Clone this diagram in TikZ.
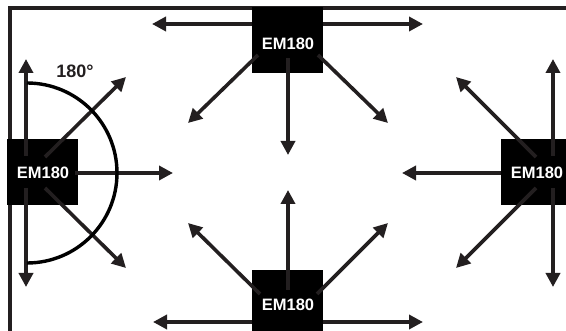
\documentclass[tikz,border=0pt]{standalone}
\usepackage{fontspec}
\setmainfont{Liberation Sans}
\usetikzlibrary{arrows.meta}
\definecolor{ink}{HTML}{231F20}
\begin{document}
\begin{tikzpicture}[x=1pt,y=-1pt,
  box/.style={fill=black,draw=none,minimum width=71pt,minimum height=66pt,inner sep=0pt},
  lbl/.style={text=white,font=\bfseries\fontsize{16.5}{18}\selectfont,inner sep=0pt},
  arr/.style={draw=ink,line width=3.6pt,-{Triangle[length=14pt,width=14pt]}},
  frame/.style={draw=ink,line width=3.2pt}]
\useasboundingbox (0,0) rectangle (566,331);
% frame
\coordinate (f1) at (10,331);
\coordinate (f2) at (10,8);
\coordinate (f3) at (566,8);
\draw[frame] (f1) -- (f2) -- (f3);
% boxes
\node[box] (T) at (287.5,40) {};
\node[box] (L) at (42.5,172) {};
\node[box] (R) at (536.5,172) {};
\node[box] (B) at (287.5,303) {};
\node[lbl] (Tt) at (288,44) {EM180};
\node[lbl] (Lt) at (43,173) {EM180};
\node[lbl] (Rt) at (537,173) {EM180};
\node[lbl] (Bt) at (288,305) {EM180};
% top box arrows
\coordinate (Ta1) at (252,24); \coordinate (Te1) at (152,24);
\coordinate (Ta2) at (323,24); \coordinate (Te2) at (423,24);
\coordinate (Ta3) at (258,55); \coordinate (Te3) at (188,123);
\coordinate (Ta4) at (288,58); \coordinate (Te4) at (288,155);
\coordinate (Ta5) at (318,55); \coordinate (Te5) at (388,123);
\foreach \i in {1,...,5} \draw[arr] (Ta\i) -- (Te\i);
% bottom box arrows
\coordinate (Ba1) at (252,322); \coordinate (Be1) at (153,322);
\coordinate (Ba2) at (323,322); \coordinate (Be2) at (423,322);
\coordinate (Ba3) at (260,294); \coordinate (Be3) at (188,223);
\coordinate (Ba4) at (288,290); \coordinate (Be4) at (288,190);
\coordinate (Ba5) at (317,294); \coordinate (Be5) at (388,223);
\foreach \i in {1,...,5} \draw[arr] (Ba\i) -- (Be\i);
% left box arrows
\coordinate (La1) at (26,156); \coordinate (Le1) at (26,59);
\coordinate (La2) at (26,188); \coordinate (Le2) at (26,287);
\coordinate (La3) at (45,157); \coordinate (Le3) at (126,77);
\coordinate (La4) at (45,188); \coordinate (Le4) at (126,268);
\coordinate (La5) at (75,173); \coordinate (Le5) at (173,173);
\foreach \i in {1,...,5} \draw[arr] (La\i) -- (Le\i);
% right box arrows
\coordinate (Ra1) at (553,156); \coordinate (Re1) at (553,59);
\coordinate (Ra2) at (553,188); \coordinate (Re2) at (553,287);
\coordinate (Ra3) at (536,157); \coordinate (Re3) at (456,77);
\coordinate (Ra4) at (536,188); \coordinate (Re4) at (456,268);
\coordinate (Ra5) at (501,173); \coordinate (Re5) at (402,173);
\foreach \i in {1,...,5} \draw[arr] (Ra\i) -- (Re\i);
% semicircle
\coordinate (arcS) at (27,83);
\draw[draw=black,line width=3.4pt] (arcS) arc[start angle=-90,end angle=90,radius=90];
\node[font=\bfseries\fontsize{18}{20}\selectfont,text=ink,inner sep=0pt] (deg) at (75,71) {180°};
\end{tikzpicture}
\end{document}
